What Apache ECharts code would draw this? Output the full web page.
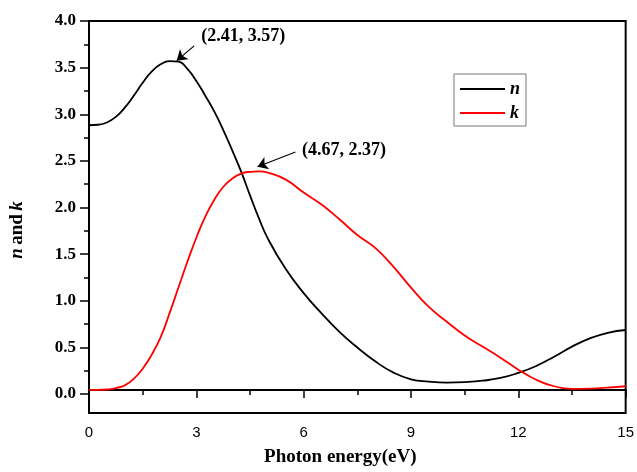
<!DOCTYPE html>
<html>
<head>
<meta charset="utf-8">
<script src="https://cdn.jsdelivr.net/npm/echarts@6/dist/echarts.min.js"></script>
<style>
  html, body { margin: 0; padding: 0; background: #fff; }
  #chart { width: 637px; height: 472px; }
</style>
</head>
<body>
<div id="chart"></div>
<script>
// Photon energy (eV)
const energy = [0, 0.25, 0.5, 0.75, 1, 1.25, 1.5, 1.75, 2, 2.25, 2.5, 2.75, 3, 3.25, 3.5, 3.75, 4, 4.25, 4.5, 4.75, 5,
                5.5, 6, 6.5, 7, 7.5, 8, 8.5, 9, 9.5, 10, 10.5, 11, 11.5, 12, 12.5, 13, 13.5, 14, 14.5, 15];
// refractive index n
const nValues = [2.87, 2.875, 2.90, 2.96, 3.06, 3.19, 3.33, 3.45, 3.53, 3.565, 3.56, 3.48, 3.35, 3.19, 3.02, 2.82, 2.60, 2.37, 2.11, 1.86, 1.64,
                 1.31, 1.05, 0.83, 0.63, 0.46, 0.31, 0.19, 0.115, 0.09, 0.08, 0.085, 0.10, 0.13, 0.185, 0.26, 0.36, 0.47, 0.56, 0.62, 0.65];
// extinction coefficient k
const kValues = [0.0, 0.0, 0.005, 0.02, 0.05, 0.12, 0.23, 0.38, 0.57, 0.83, 1.11, 1.39, 1.65, 1.88, 2.06, 2.20, 2.29, 2.345, 2.365, 2.37, 2.355,
                 2.28, 2.14, 2.01, 1.85, 1.68, 1.54, 1.34, 1.11, 0.90, 0.74, 0.59, 0.47, 0.35, 0.22, 0.11, 0.04, 0.012, 0.015, 0.025, 0.04];
// peak annotations [energy, value]
const nPeak = [2.41, 3.57];
const kPeak = [4.67, 2.37];
const seriesNames = ['n', 'k'];

const serif = 'Liberation Serif, Times New Roman, serif';
const sans = 'Liberation Sans, Arial, sans-serif';

const pairs = (ys) => energy.map((x, i) => [x, ys[i]]);
const peakText = (p) => '(' + p[0].toFixed(2) + ', ' + p[1].toFixed(2) + ')';

// arrow pointing at a peak plus the coordinate text next to its tail
function peakMarks(peak, tipShift, tailShift, labelOffset) {
  const tip = [peak[0] + tipShift[0], peak[1] + tipShift[1]];
  const tail = [tip[0] + tailShift[0], tip[1] + tailShift[1]];
  return {
    markLine: {
      silent: true,
      animation: false,
      symbol: ['none', 'arrow'],
      symbolSize: 10,
      lineStyle: { color: '#000', width: 1.2, type: 'solid' },
      itemStyle: { color: '#000' },
      label: { show: false },
      emphasis: { disabled: true },
      data: [[{ coord: tail }, { coord: tip }]]
    },
    markPoint: {
      silent: true,
      animation: false,
      symbol: 'circle',
      symbolSize: 0,
      label: {
        show: true,
        formatter: peakText(peak),
        offset: labelOffset,
        color: '#000',
        fontFamily: serif,
        fontWeight: 'bold',
        fontSize: 18
      },
      data: [{ coord: peak }]
    }
  };
}

const chart = echarts.init(document.getElementById('chart'), null, { renderer: 'canvas' });

const option = {
  animation: false,
  backgroundColor: '#fff',
  grid: [
    { left: 89, right: 10, top: 21, bottom: 54.7, show: true, borderColor: '#000', borderWidth: 2, backgroundColor: 'transparent' },
    { left: 89, right: 10, top: 21, bottom: 78 }
  ],
  legend: {
    orient: 'vertical',
    left: 454,
    top: 74,
    padding: [6, 6, 4, 6],
    itemGap: 6,
    itemWidth: 45,
    itemHeight: 2,
    icon: 'rect',
    borderColor: '#777',
    borderWidth: 1,
    textStyle: { fontFamily: serif, fontStyle: 'italic', fontWeight: 'bold', fontSize: 18, color: '#000' },
    data: seriesNames
  },
  xAxis: [
    {
      gridIndex: 0,
      type: 'value',
      min: 0, max: 15, interval: 3,
      name: 'Photon energy(eV)',
      nameLocation: 'middle',
      nameGap: 35,
      nameTextStyle: { fontFamily: serif, fontWeight: 'bold', fontSize: 19, color: '#000', padding: [0, 34, 0, 0] },
      axisLine: { show: true, lineStyle: { color: '#000', width: 2 } },
      axisTick: { show: true, length: 8, lineStyle: { color: '#000', width: 1.5 } },
      minorTick: { show: true, splitNumber: 2, length: 5, lineStyle: { color: '#000', width: 1.5 } },
      splitLine: { show: false },
      axisLabel: { margin: 12, fontFamily: sans, fontSize: 15, color: '#000' }
    },
    { gridIndex: 1, type: 'value', min: 0, max: 15, show: false }
  ],
  yAxis: [
    {
      gridIndex: 0,
      type: 'value',
      min: -0.25, max: 4,
      name: '{i|n} {b|and} {i|k}',
      nameLocation: 'middle',
      nameGap: 62,
      nameTextStyle: {
        padding: [0, 26, 0, 0],
        rich: {
          i: { fontFamily: serif, fontStyle: 'italic', fontWeight: 'bold', fontSize: 19, color: '#000' },
          b: { fontFamily: serif, fontWeight: 'bold', fontSize: 19, color: '#000' }
        }
      },
      axisLine: { show: true, lineStyle: { color: '#000', width: 2 } },
      axisTick: { show: false },
      axisLabel: { show: false },
      splitLine: { show: false }
    },
    {
      gridIndex: 1,
      type: 'value',
      min: 0, max: 4, interval: 0.5,
      axisLine: { show: true, lineStyle: { color: '#000', width: 2 } },
      axisTick: { show: true, length: 9, lineStyle: { color: '#000', width: 1.5 } },
      minorTick: { show: true, splitNumber: 2, length: 5, lineStyle: { color: '#000', width: 1.5 } },
      splitLine: { show: false },
      axisLabel: {
        margin: 13,
        fontFamily: serif, fontWeight: 'bold', fontSize: 17, color: '#000',
        formatter: (v) => v.toFixed(1)
      }
    }
  ],
  series: [
    Object.assign({
      name: seriesNames[0],
      type: 'line',
      xAxisIndex: 0, yAxisIndex: 0,
      data: pairs(nValues),
      smooth: 0.5,
      showSymbol: false,
      symbol: 'none',
      lineStyle: { color: '#000', width: 1.8 },
      itemStyle: { color: '#000' },
      z: 3
    }, peakMarks(nPeak, [0.04, 0.0], [0.49, 0.16], [68, -24])),
    Object.assign({
      name: seriesNames[1],
      type: 'line',
      xAxisIndex: 0, yAxisIndex: 0,
      data: pairs(kValues),
      smooth: 0.5,
      showSymbol: false,
      symbol: 'none',
      lineStyle: { color: '#ff0000', width: 1.8 },
      itemStyle: { color: '#ff0000' },
      z: 4
    }, peakMarks(kPeak, [0.04, 0.05], [1.06, 0.16], [88, -21]))
  ]
};

chart.setOption(option);
</script>
</body>
</html>
